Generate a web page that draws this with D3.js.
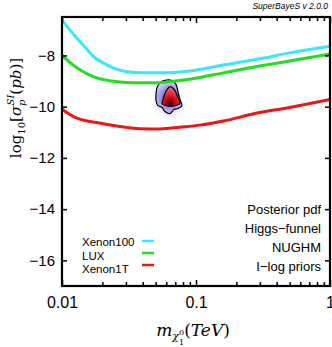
<!DOCTYPE html>
<head>
<meta charset="utf-8">
<script src="https://d3js.org/d3.v7.min.js"></script>
<style>
    body { margin:0; background:#fff; }
    svg { display:block; }
</style>
</head>
<body>
<svg id="chart" width="332" height="347"></svg>
<script>
// limit curves: neutralino mass (TeV) and log10 sigma (pb)
var xenon100Mass = [0.01, 0.0125, 0.015, 0.0175, 0.02, 0.025, 0.03, 0.04, 0.06, 0.09, 0.15, 0.3, 0.5, 1];
var xenon100Sigma = [-6.62, -7.24, -7.7, -8.08, -8.27, -8.52, -8.63, -8.68, -8.68, -8.61, -8.4, -8.13, -7.9, -7.64];
var luxMass = [0.01, 0.012, 0.014, 0.0175, 0.0235, 0.033, 0.05, 0.07, 0.0925, 0.16, 0.28, 0.5, 1];
var luxSigma = [-8.0, -8.36, -8.6, -8.85, -9.0, -9.07, -9.07, -9.0, -8.92, -8.68, -8.44, -8.22, -7.94];
var xenon1tMass = [0.01, 0.0125, 0.019, 0.027, 0.038, 0.054, 0.076, 0.107, 0.16, 0.28, 0.5, 1];
var xenon1tSigma = [-10.1, -10.42, -10.64, -10.77, -10.86, -10.87, -10.8, -10.72, -10.56, -10.26, -10.03, -9.72];

// posterior contours (2 sigma outer, 1 sigma inner) and peak
var outerContour = [[0.0577,-8.98],[0.0539,-9.06],[0.0512,-9.25],[0.0503,-9.53],[0.0503,-9.76],[0.052,-9.96],[0.0558,-10.03],[0.0587,-10.19],[0.064,-10.27],[0.0685,-10.11],[0.0734,-10.07],[0.0786,-9.96],[0.076,-9.72],[0.0734,-9.41],[0.0709,-9.13],[0.0662,-8.98]];
var innerContour = [[0.064,-9.22],[0.0597,-9.4],[0.0567,-9.72],[0.0558,-9.88],[0.0597,-9.96],[0.0697,-9.96],[0.076,-9.88],[0.0734,-9.64],[0.0685,-9.32]];
var peakPoint = [0.064, -9.86];

var legendNames = ["Xenon100", "LUX", "Xenon1T"];
var infoLines = ["Posterior pdf", "Higgs\u2212funnel", "NUGHM", "I\u2212log priors"];
var xMajorTicks = [0.01, 0.1, 1];
var xMinorTicks = [0.02,0.03,0.04,0.05,0.06,0.07,0.08,0.09,0.2,0.3,0.4,0.5,0.6,0.7,0.8,0.9];
var yTicks = [-16, -14, -12, -10, -8];

// plot box (note: "top" is taken by window.top)
var pLeft = 62, pRight = 330, pTop = 17, pBottom = 286;
var svg = d3.select("#chart");

var x = d3.scaleLog().domain([0.01, 1]).range([pLeft, pRight]);
var y = d3.scaleLinear().domain([-17, -6.5]).range([pBottom, pTop]);

var defs = svg.append("defs");
defs.append("clipPath").attr("id", "plotclip")
    .append("rect").attr("x", pLeft).attr("y", pTop).attr("width", pRight-pLeft).attr("height", pBottom-pTop);

var px = x(peakPoint[0]), py = y(peakPoint[1]);

var outerGrad = defs.append("radialGradient").attr("id", "outerfill")
    .attr("gradientUnits", "userSpaceOnUse")
    .attr("cx", px).attr("cy", py - 5).attr("r", 21);
outerGrad.append("stop").attr("offset", "0%").attr("stop-color", "#4a3fc4");
outerGrad.append("stop").attr("offset", "40%").attr("stop-color", "#8f86e2");
outerGrad.append("stop").attr("offset", "100%").attr("stop-color", "#f6f5fd");

var innerGrad = defs.append("radialGradient").attr("id", "innerfill")
    .attr("gradientUnits", "userSpaceOnUse")
    .attr("cx", px).attr("cy", py).attr("r", 17);
innerGrad.append("stop").attr("offset", "0%").attr("stop-color", "#1a0000");
innerGrad.append("stop").attr("offset", "15%").attr("stop-color", "#8a0008");
innerGrad.append("stop").attr("offset", "40%").attr("stop-color", "#e0101e");
innerGrad.append("stop").attr("offset", "100%").attr("stop-color", "#f27a92");

defs.append("filter").attr("id", "halo")
    .attr("x", "-50%").attr("y", "-50%").attr("width", "200%").attr("height", "200%")
    .append("feGaussianBlur").attr("stdDeviation", 3);

var plot = svg.append("g").attr("clip-path", "url(#plotclip)");

// posterior blob
var blob = d3.line().x(function(d){ return x(d[0]); }).y(function(d){ return y(d[1]); })
    .curve(d3.curveCatmullRomClosed);

plot.append("path").attr("d", blob(outerContour))
    .attr("fill", "#e4e0f8").attr("filter", "url(#halo)")
    .attr("transform", "translate(0,4)");
plot.append("path").attr("d", blob(outerContour))
    .attr("fill", "url(#outerfill)").attr("stroke", "#000").attr("stroke-width", 1.2);
plot.append("path").attr("d", blob(innerContour))
    .attr("fill", "url(#innerfill)").attr("stroke", "#000").attr("stroke-width", 1.2);

// limit curves
var limitLine = d3.line().curve(d3.curveMonotoneX)
    .x(function(d){ return x(d[0]); }).y(function(d){ return y(d[1]); });

var curves = [
    {mass: xenon100Mass, sigma: xenon100Sigma, color: "#3be6ff"},
    {mass: luxMass, sigma: luxSigma, color: "#22dd22"},
    {mass: xenon1tMass, sigma: xenon1tSigma, color: "#ee1515"}
];

curves.forEach(function(c) {
    plot.append("path")
        .attr("d", limitLine(c.mass.map(function(m, i){ return [m, c.sigma[i]]; })))
        .attr("fill", "none")
        .attr("stroke", c.color)
        .attr("stroke-width", 3);
});

// axes: ticks pointing inward
var xAxisG = svg.append("g").attr("transform", "translate(0," + pBottom + ")")
    .call(d3.axisBottom(x).tickValues(xMajorTicks).tickSize(-6).tickPadding(11)
        .tickFormat(function(d){ return d; }));
svg.append("g").attr("transform", "translate(0," + pBottom + ")")
    .call(d3.axisBottom(x).tickValues(xMinorTicks).tickSize(-4).tickFormat(""));
svg.append("g").attr("transform", "translate(0," + pTop + ")")
    .call(d3.axisTop(x).tickValues(xMajorTicks).tickSize(-6).tickFormat(""));
svg.append("g").attr("transform", "translate(0," + pTop + ")")
    .call(d3.axisTop(x).tickValues(xMinorTicks).tickSize(-4).tickFormat(""));

var yAxisG = svg.append("g").attr("transform", "translate(" + pLeft + ",0)")
    .call(d3.axisLeft(y).tickValues(yTicks).tickSizeInner(-5).tickSizeOuter(0).tickPadding(7));
svg.append("g").attr("transform", "translate(" + pRight + ",0)")
    .call(d3.axisRight(y).tickValues(yTicks).tickSizeInner(-5).tickSizeOuter(0).tickFormat(""));

svg.selectAll(".domain").remove();
svg.selectAll(".tick line").attr("stroke", "#000").attr("stroke-width", 1.5);
svg.selectAll(".tick text")
    .attr("font-family", "Liberation Sans, Arial, sans-serif")
    .attr("fill", "#000");
xAxisG.selectAll(".tick text").attr("font-size", "16px");
yAxisG.selectAll(".tick text").attr("font-size", "15px");

// frame
svg.append("rect")
    .attr("x", pLeft).attr("y", pTop).attr("width", pRight-pLeft).attr("height", pBottom-pTop)
    .attr("fill", "none").attr("stroke", "#000").attr("stroke-width", 2.2);

// legend
legendNames.forEach(function(name, i) {
    svg.append("text")
        .attr("x", 82).attr("y", 246 + i*13.6)
        .attr("font-family", "Liberation Sans, Arial, sans-serif")
        .attr("font-size", "11.5px")
        .text(name);
    svg.append("line")
        .attr("x1", 142).attr("x2", 154)
        .attr("y1", 241 + i*12).attr("y2", 241 + i*12)
        .attr("stroke", curves[i].color).attr("stroke-width", 2.5);
});

// info text
infoLines.forEach(function(t, i) {
    svg.append("text")
        .attr("x", 321).attr("y", 214 + i*19)
        .attr("text-anchor", "end")
        .attr("font-family", "Liberation Sans, Arial, sans-serif")
        .attr("font-size", "13px")
        .text(t);
});

// title
svg.append("text")
    .attr("x", 328).attr("y", 9)
    .attr("text-anchor", "end")
    .attr("font-family", "Liberation Sans, Arial, sans-serif")
    .attr("font-size", "8.5px")
    .attr("font-style", "italic")
    .text("SuperBayeS v 2.0.0");

// y axis label
var ylab = svg.append("text")
    .attr("transform", "translate(21,108) rotate(-90)")
    .attr("text-anchor", "middle")
    .attr("font-family", "DejaVu Serif, serif")
    .attr("font-size", "15px");
ylab.append("tspan").text("log");
ylab.append("tspan").attr("font-size", "10px").attr("dy", 4).text("10");
ylab.append("tspan").attr("dy", -4).text("[");
ylab.append("tspan").attr("font-style", "italic").text("\u03c3");
ylab.append("tspan").attr("font-style", "italic").attr("font-size", "10px").attr("dy", 4).text("p");
ylab.append("tspan").attr("font-style", "italic").attr("font-size", "10px").attr("dx", -6).attr("dy", -11).text("SI");
ylab.append("tspan").attr("dy", 7).text("(");
ylab.append("tspan").attr("font-style", "italic").text("pb");
ylab.append("tspan").text(")]");

// x axis label
var xlab = svg.append("text")
    .attr("x", 193).attr("y", 336)
    .attr("text-anchor", "middle")
    .attr("font-family", "DejaVu Serif, serif")
    .attr("font-size", "17px");
xlab.append("tspan").attr("font-style", "italic").text("m");
xlab.append("tspan").attr("font-style", "italic").attr("font-size", "11px").attr("dy", 4).text("\u03c7");
xlab.append("tspan").attr("font-size", "8px").attr("dy", 5).text("1");
xlab.append("tspan").attr("font-size", "8px").attr("dx", -5).attr("dy", -10).text("0");
xlab.append("tspan").attr("dy", 1).text("(");
xlab.append("tspan").attr("font-style", "italic").text("TeV");
xlab.append("tspan").text(")");
</script>
</body>
